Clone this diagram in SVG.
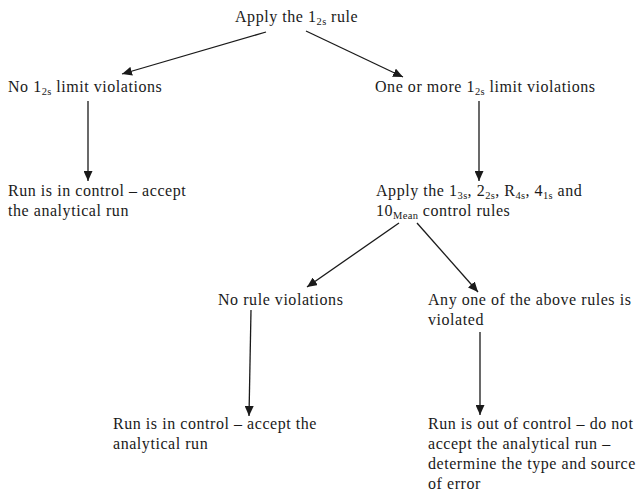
<svg xmlns="http://www.w3.org/2000/svg" width="639" height="495" viewBox="0 0 639 495" font-family="'Liberation Serif', 'Times New Roman', serif" font-size="16">
<style>
text{fill:#1a1a1a;letter-spacing:0.55px}
.s{font-size:10.5px;letter-spacing:0.3px}
.c line{stroke:#1a1a1a;stroke-width:1.3;marker-end:url(#ah)}
</style>
<defs>
<marker id="ah" markerUnits="userSpaceOnUse" markerWidth="11" markerHeight="9" refX="10" refY="4.5" orient="auto">
<path d="M0,0 L10,4.5 L0,9 z" fill="#1a1a1a"/>
</marker>
</defs>
<rect width="639" height="495" fill="#fff"/>
<g class="c" id="connectors">
<line x1="266" y1="32" x2="122" y2="74"/>
<line x1="306" y1="31" x2="403" y2="77"/>
<line x1="88" y1="101" x2="88" y2="181"/>
<line x1="479" y1="101" x2="479" y2="181"/>
<line x1="399" y1="223" x2="307" y2="287"/>
<line x1="417" y1="223" x2="478" y2="292"/>
<line x1="251" y1="310" x2="249" y2="416"/>
<line x1="480" y1="332" x2="480" y2="415"/>
</g>
<g id="n1"><text x="235" y="22">Apply the 1<tspan class="s" dy="3">2s</tspan><tspan dy="-3"> rule</tspan></text></g>
<g id="n2"><text x="8" y="92">No 1<tspan class="s" dy="3">2s</tspan><tspan dy="-3"> limit violations</tspan></text></g>
<g id="n3"><text x="375" y="92">One or more 1<tspan class="s" dy="3">2s</tspan><tspan dy="-3"> limit violations</tspan></text></g>
<g id="n4"><text x="8" y="196">Run is in control – accept</text><text x="8" y="216">the analytical run</text></g>
<g id="n5"><text x="376" y="196">Apply the 1<tspan class="s" dy="3">3s</tspan><tspan dy="-3">, 2</tspan><tspan class="s" dy="3">2s</tspan><tspan dy="-3">, R</tspan><tspan class="s" dy="3">4s</tspan><tspan dy="-3">, 4</tspan><tspan class="s" dy="3">1s</tspan><tspan dy="-3"> and</tspan></text><text x="376" y="216">10<tspan class="s" dy="3">Mean</tspan><tspan dy="-3"> control rules</tspan></text></g>
<g id="n6"><text x="218" y="305">No rule violations</text></g>
<g id="n7"><text x="428" y="305">Any one of the above rules is</text><text x="428" y="325">violated</text></g>
<g id="n8"><text x="113" y="429">Run is in control – accept the</text><text x="113" y="449">analytical run</text></g>
<g id="n9"><text x="428" y="429">Run is out of control – do not</text><text x="428" y="449">accept the analytical run –</text><text x="428" y="469">determine the type and source</text><text x="428" y="489">of error</text></g>
</svg>
